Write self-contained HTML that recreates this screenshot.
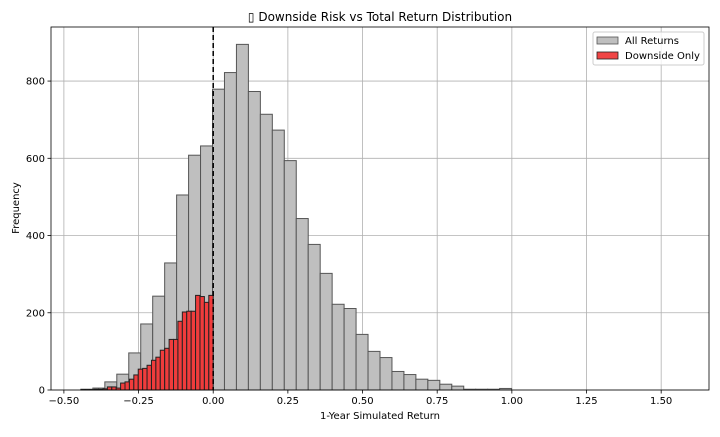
<!DOCTYPE html>
<html><head><meta charset="utf-8"><style>
body{margin:0;background:#fff;}
svg text{font-family:"DejaVu Sans","Liberation Sans",sans-serif;fill:#000;}
</style></head><body>
<svg id="chart" width="720" height="432" xmlns="http://www.w3.org/2000/svg">
<rect width="720" height="432" fill="#fff"/>
<text x="380" y="21" font-size="12" text-anchor="middle">▯ Downside Risk vs Total Return Distribution</text>
<g id="grid"></g>
<g id="bars"></g>
<g id="axes"></g>
<text x="380" y="419" font-size="10" text-anchor="middle">1-Year Simulated Return</text>
<text x="19" y="208" font-size="10" text-anchor="middle" transform="rotate(-90 19 208)">Frequency</text>
<g>
<rect x="593" y="32" width="111" height="33" rx="2" fill="#fff" fill-opacity="0.8" stroke="#ccc"/>
<rect x="597" y="37" width="21" height="7" fill="#bfbfbf" stroke="#555" stroke-width="0.8"/>
<text x="625" y="44" font-size="10">All Returns</text>
<rect x="597" y="52" width="21" height="7" fill="#f04545" stroke="#222" stroke-width="0.8"/>
<text x="625" y="59" font-size="10">Downside Only</text>
</g>
</svg>
<script>
const allCounts=[2,5,21,41,96,171,243,329,505,608,632,779,822,895,773,714,673,594,444,377,302,222,211,144,100,84,48,40,28,25,15,10,2,2,2,4,0,0,0,0,0,0,0,0,0,0,0,0,0,0];
const downCounts=[1,1,1,2,2,3,8,8,5,18,21,28,39,54,56,64,77,85,103,108,131,131,178,202,204,204,245,242,227,245];
const dataMin=-0.443, dataMax=1.56, downMax=0;
const xTicks=[-0.5,-0.25,0,0.25,0.5,0.75,1.0,1.25,1.5];
const xTickLabels=["−0.50","−0.25","0.00","0.25","0.50","0.75","1.00","1.25","1.50"];
const yTicks=[0,200,400,600,800];
const yTickLabels=["0","200","400","600","800"];
const L=51,R=709,T=27,B=390;
const span=dataMax-dataMin, x0=dataMin-span*0.05, x1=dataMax+span*0.05;
const X=v=>L+(v-x0)/(x1-x0)*(R-L);
const yMax=940;
const Y=v=>B-v/yMax*(B-T);
const NS="http://www.w3.org/2000/svg";
function mk(p,tag,a){const e=document.createElementNS(NS,tag);for(const k in a)e.setAttribute(k,a[k]);p.appendChild(e);return e;}
const grid=document.getElementById('grid'),bars=document.getElementById('bars'),axes=document.getElementById('axes');
xTicks.forEach((t,i)=>{
 const l=mk(grid,'line',{x1:X(t),x2:X(t),y1:T,y2:B,stroke:'#b0b0b0','stroke-width':0.8});
 
 
 mk(axes,'line',{x1:X(t),x2:X(t),y1:B,y2:B+3.5,stroke:'#000','stroke-width':0.8});
 const tx=mk(axes,'text',{x:X(t),y:B+14,'font-size':10,'text-anchor':'middle'});
 tx.textContent=xTickLabels[i];
 
 
});
yTicks.forEach((t,i)=>{
 const l=mk(grid,'line',{x1:L,x2:R,y1:Y(t),y2:Y(t),stroke:'#b0b0b0','stroke-width':0.8});
 
 
 mk(axes,'line',{x1:L-3.5,x2:L,y1:Y(t),y2:Y(t),stroke:'#000','stroke-width':0.8});
 const tx=mk(axes,'text',{x:L-6,y:Y(t)+3.5,'font-size':10,'text-anchor':'end'});
 tx.textContent=yTickLabels[i];
 
 
});
const wA=(dataMax-dataMin)/allCounts.length;
allCounts.forEach((c,i)=>{
 if(c<=0)return;
 const a=X(dataMin+i*wA),b=X(dataMin+(i+1)*wA);
 const r=mk(bars,'rect',{x:a,y:Y(c),width:b-a,height:B-Y(c),fill:'#bfbfbf',stroke:'#555','stroke-width':1});
 
 
});
const wD=(downMax-dataMin)/downCounts.length;
downCounts.forEach((c,i)=>{
 if(c<=0)return;
 const a=X(dataMin+i*wD),b=X(dataMin+(i+1)*wD);
 const r=mk(bars,'rect',{x:a,y:Y(c),width:b-a,height:B-Y(c),fill:'#f03c3c',stroke:'#222','stroke-width':1});
 
 
});
const z=mk(bars,'line',{x1:X(0),x2:X(0),y1:T,y2:B,stroke:'#000','stroke-width':1.5,'stroke-dasharray':'5,3'});


const f=mk(axes,'rect',{x:L,y:T,width:R-L,height:B-T,fill:'none',stroke:'#000','stroke-width':0.8});


</script>
</body></html>
